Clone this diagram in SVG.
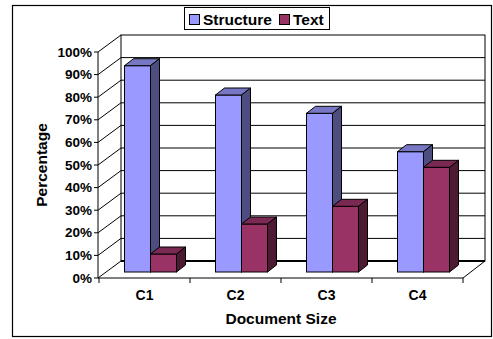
<svg xmlns="http://www.w3.org/2000/svg" width="493" height="339" viewBox="0 0 493 339">
<style>
.t{font-family:"Liberation Sans",Arial,sans-serif;font-weight:bold;fill:#000}
.yl{font-size:13.5px;text-anchor:end}
.xl{font-size:14px;text-anchor:middle}
.ax{font-size:15.5px}
.g{stroke:#000;stroke-width:1;fill:none}
.sf{fill:#9999FF;stroke:#000;stroke-width:1}
.st{fill:#7777C4;stroke:#000;stroke-width:1}
.ss{fill:#4D4D80;stroke:#000;stroke-width:1}
.tf{fill:#993366;stroke:#000;stroke-width:1}
.tt{fill:#7A2952;stroke:#000;stroke-width:1}
.ts{fill:#4D1A33;stroke:#000;stroke-width:1}
</style>
<rect x="0" y="0" width="493" height="339" fill="#fff"/>
<rect x="12.5" y="5.5" width="479" height="331" fill="#fff" stroke="#000" stroke-width="1.2"/>
<g id="axes">
<rect x="121" y="35" width="364" height="226" fill="#fff" stroke="#000" stroke-width="1"/>
<path class="g" d="M121 238.4H485M121 215.8H485M121 193.2H485M121 170.6H485M121 148H485M121 125.4H485M121 102.8H485M121 80.2H485M121 57.6H485"/>
<path class="g" d="M98 278L121 261M98 255.4L121 238.4M98 232.8L121 215.8M98 210.2L121 193.2M98 187.6L121 170.6M98 165L121 148M98 142.4L121 125.4M98 119.8L121 102.8M98 97.2L121 80.2M98 74.6L121 57.6M98 52L121 35"/>
<path class="g" d="M98 52V278H463L485 261"/>
<path d="M121 261H485" stroke="#000" stroke-width="2" fill="none"/>
<path class="g" d="M94 278H98M94 255.4H98M94 232.8H98M94 210.2H98M94 187.6H98M94 165H98M94 142.4H98M94 119.8H98M94 97.2H98M94 74.6H98M94 52H98"/>
<path class="g" d="M99 278V283M190 278V283M281 278V283M372 278V283M463 278V283"/>
</g>
<g id="bars">
<g id="C1">
<rect class="sf" x="124.5" y="65.7" width="26" height="206.3"/>
<polygon class="st" points="124.5,65.7 133.5,58.7 159.5,58.7 150.5,65.7"/>
<polygon class="ss" points="150.5,65.7 159.5,58.7 159.5,265 150.5,272"/>
<rect class="tf" x="150.5" y="254" width="26" height="18"/>
<polygon class="tt" points="150.5,254 159.5,247 185.5,247 176.5,254"/>
<polygon class="ts" points="176.5,254 185.5,247 185.5,265 176.5,272"/>
</g>
<g id="C2">
<rect class="sf" x="215.5" y="95" width="26" height="177"/>
<polygon class="st" points="215.5,95 224.5,88 250.5,88 241.5,95"/>
<polygon class="ss" points="241.5,95 250.5,88 250.5,265 241.5,272"/>
<rect class="tf" x="241.5" y="224" width="26" height="48"/>
<polygon class="tt" points="241.5,224 250.5,217 276.5,217 267.5,224"/>
<polygon class="ts" points="267.5,224 276.5,217 276.5,265 267.5,272"/>
</g>
<g id="C3">
<rect class="sf" x="306.5" y="113.3" width="26" height="158.7"/>
<polygon class="st" points="306.5,113.3 315.5,106.3 341.5,106.3 332.5,113.3"/>
<polygon class="ss" points="332.5,113.3 341.5,106.3 341.5,265 332.5,272"/>
<rect class="tf" x="332.5" y="206.3" width="26" height="65.7"/>
<polygon class="tt" points="332.5,206.3 341.5,199.3 367.5,199.3 358.5,206.3"/>
<polygon class="ts" points="358.5,206.3 367.5,199.3 367.5,265 358.5,272"/>
</g>
<g id="C4">
<rect class="sf" x="397.5" y="151.7" width="26" height="120.3"/>
<polygon class="st" points="397.5,151.7 406.5,144.7 432.5,144.7 423.5,151.7"/>
<polygon class="ss" points="423.5,151.7 432.5,144.7 432.5,265 423.5,272"/>
<rect class="tf" x="423.5" y="167.3" width="26" height="104.7"/>
<polygon class="tt" points="423.5,167.3 432.5,160.3 458.5,160.3 449.5,167.3"/>
<polygon class="ts" points="449.5,167.3 458.5,160.3 458.5,265 449.5,272"/>
</g>
</g>
<g id="ylabels" class="t yl">
<text x="92" y="282.5">0%</text>
<text x="92" y="259.9">10%</text>
<text x="92" y="237.3">20%</text>
<text x="92" y="214.7">30%</text>
<text x="92" y="192.1">40%</text>
<text x="92" y="169.5">50%</text>
<text x="92" y="146.9">60%</text>
<text x="92" y="124.3">70%</text>
<text x="92" y="101.7">80%</text>
<text x="92" y="79.1">90%</text>
<text x="92" y="56.5">100%</text>
</g>
<g id="xlabels" class="t xl">
<text x="144.5" y="300">C1</text>
<text x="235.5" y="300">C2</text>
<text x="326.5" y="300">C3</text>
<text x="417.5" y="300">C4</text>
</g>
<text id="xtitle" class="t ax" x="281" y="324" text-anchor="middle">Document Size</text>
<text id="ytitle" class="t ax" transform="translate(46.5,165) rotate(-90)" text-anchor="middle">Percentage</text>
<g id="legend">
<rect x="184.5" y="7.5" width="145" height="22" fill="#fff" stroke="#000" stroke-width="1"/>
<rect x="189.5" y="14.5" width="10" height="10" fill="#9999FF" stroke="#000" stroke-width="1"/>
<text class="t" x="203" y="25" font-size="15.5">Structure</text>
<rect x="279.5" y="14.5" width="10" height="10" fill="#993366" stroke="#000" stroke-width="1"/>
<text class="t" x="293" y="25" font-size="15.5">Text</text>
</g>
</svg>
